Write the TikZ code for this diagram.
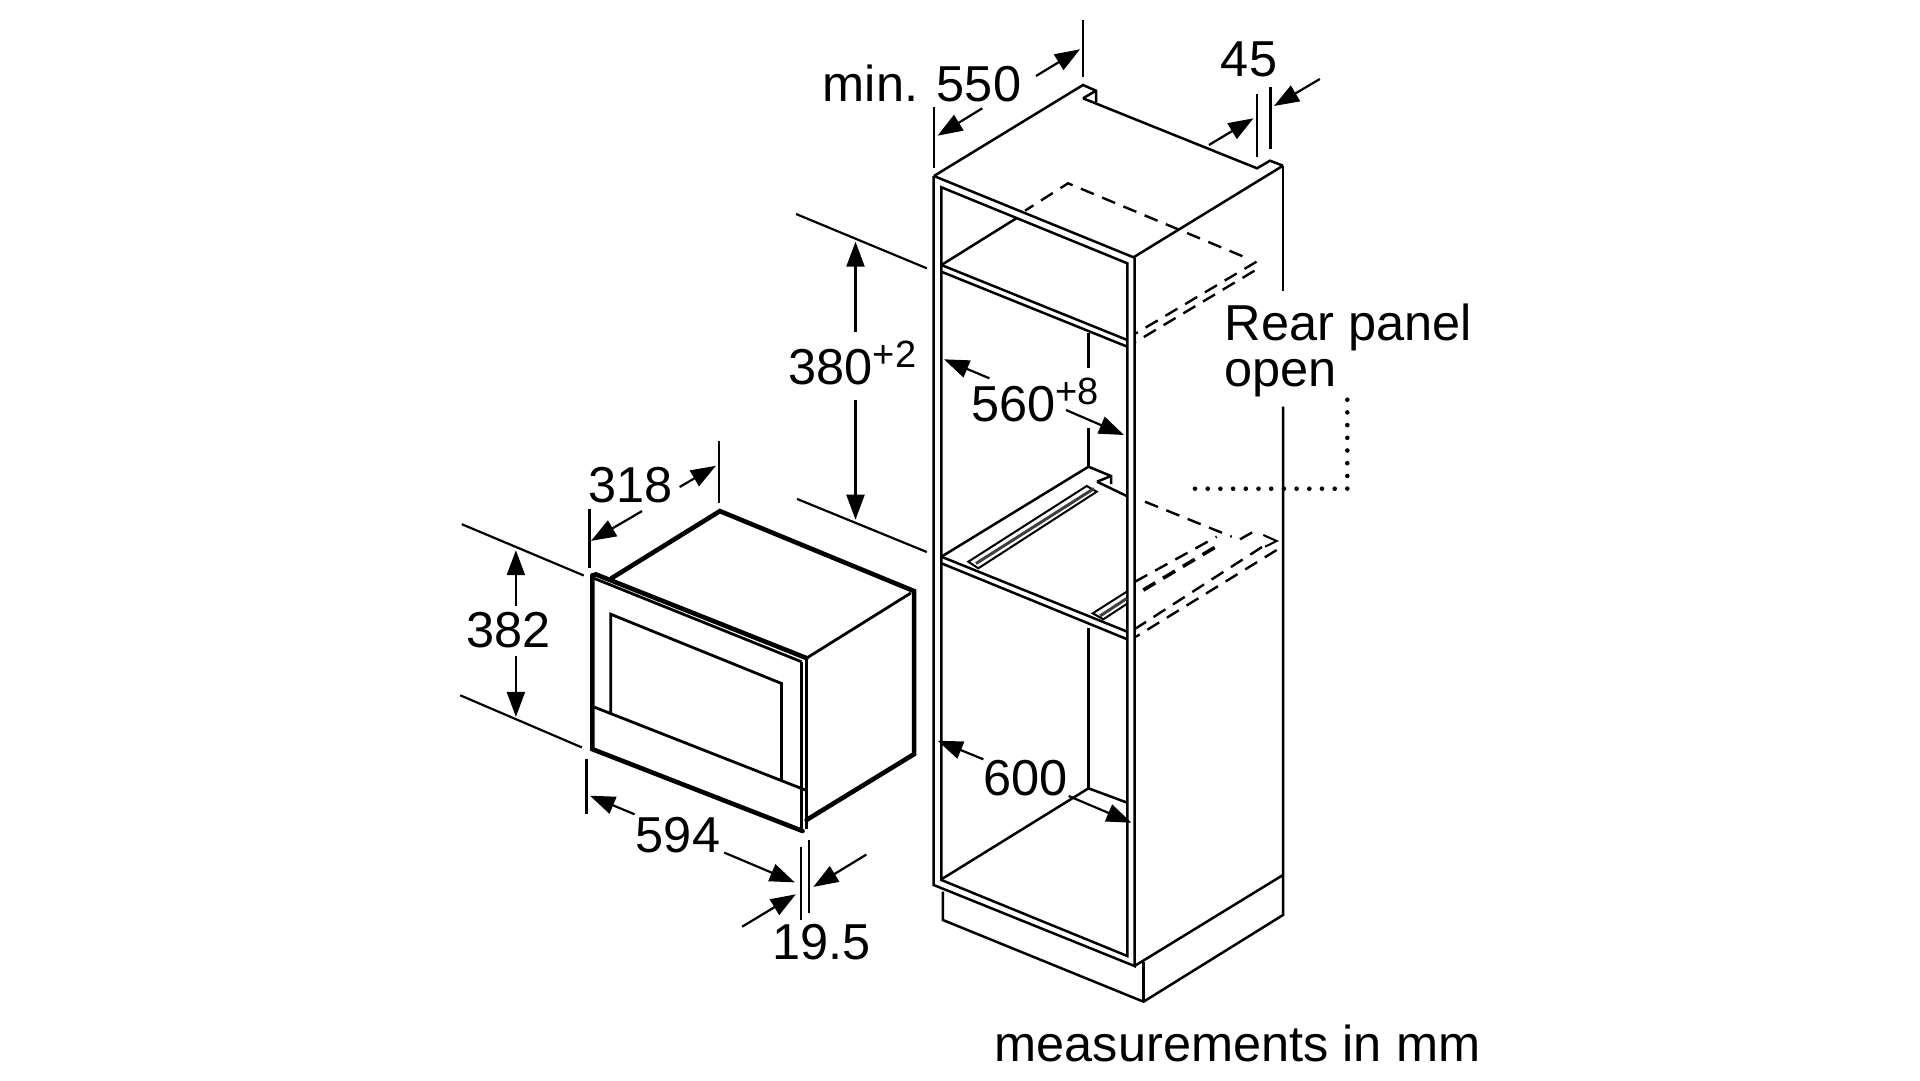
\documentclass[tikz,border=0pt]{standalone}
\usepackage{fontspec}
\setmainfont{Liberation Sans}
\usetikzlibrary{arrows.meta}
\tikzset{
  oven/.style={line width=4.6pt,line join=miter,line cap=round,black},
  ovenmid/.style={line width=2.8pt,line join=miter,black},
  cab/.style={line width=2.5pt,line join=miter,line cap=butt,black},
  hid/.style={line width=2.4pt,dash pattern=on 14pt off 9pt,black},
  dots/.style={line width=4.6pt,line cap=round,dash pattern=on 0pt off 12.7pt,black},
  dimarrow/.style={line width=2.2pt,black,-{Triangle[length=25pt,width=18pt]}},
  extline/.style={line width=2.2pt,black},
  lab/.style={font=\fontsize{50.5}{45.5}\selectfont,inner sep=0pt,text=black},
}
\newcommand{\supmark}[1]{\raisebox{0.32em}{\fontsize{38}{38}\selectfont #1}}
\begin{document}
\begin{tikzpicture}[x=1pt,y=-1pt]
\fill[white] (0,0) rectangle (1920,1080);
\useasboundingbox (0,0) rectangle (1920,1080);

% ---------- OVEN ----------
\begin{scope}[xshift=-3pt]
\draw[oven] (595.4,575.5) -- (595.4,749.2) -- (805.6,831);
\draw[oven] (595.4,575.5) -- (598.9,574.4) -- (809.6,658.1);
\draw[oven] (614.7,578.1) -- (722.9,511.1) -- (917.1,591.1) -- (917.1,754.1) -- (809.6,819.9);
\draw[ovenmid] (596.5,578.1) -- (804.6,661.8);
\draw[ovenmid] (809.6,658.1) -- (913.8,593);
\draw[ovenmid] (804.6,661.8) -- (804.6,831.1);
\draw[ovenmid] (809.6,658.1) -- (809.6,829);
\draw[ovenmid] (613.7,713.9) -- (613.7,614.2) -- (784.4,683.4) -- (784.4,780.8);
\draw[ovenmid] (597.5,707.2) -- (809.6,790.5);

% oven dimensions
\draw[extline] (592.5,509.3) -- (592.5,568);
\draw[extline] (721.6,440.5) -- (721.6,502.6);
\draw[dimarrow] (645,511.1) -- (594,540.9);
\draw[dimarrow] (682.6,487) -- (718.9,465.8);
\node[lab] (t318) at (633.5,485.1) {318};

\draw[extline] (589.5,758.5) -- (589.5,814.3);
\draw[dimarrow] (637.6,814.3) -- (593,795.7);
\draw[dimarrow] (727.3,852.6) -- (797.8,882.4);
\node[lab] (t594) at (681,835.5) {594};

\draw[extline] (803.6,847.1) -- (803.6,920.3);
\draw[extline] (812,840.4) -- (812,912.9);
\draw[dimarrow] (745.1,926.7) -- (798.8,894.3);
\draw[dimarrow] (869.4,854.5) -- (816.3,886.9);
\node[lab] (t195) at (824.5,942.5) {19.5};
\end{scope}

\draw[extline] (461.8,524.2) -- (583.8,575.5);
\draw[extline] (460.2,695.3) -- (581.8,747.4);
\draw[dimarrow] (515.9,606) -- (515.9,550.2);
\draw[dimarrow] (515.9,656.2) -- (515.9,716.9);
\node[lab] (t382) at (508.9,630.3) {382};

% ---------- CABINET ----------
% top
\draw[cab] (933.9,176) -- (1083,85) -- (1096,90.7) -- (1096,102.7);
\draw[cab] (1083,98.3) -- (1096,90.7);
\draw[cab] (1083,98.3) -- (1257,168.3) -- (1270,160.7) -- (1283,165.7);
\draw[cab] (933.9,176) -- (1133.5,257.3) -- (1283,165.7);
% frame verticals
\draw[cab] (933.7,176) -- (933.7,885) -- (1134.5,966) -- (1134.5,257.3);
\draw[cab] (941.4,187.3) -- (941.4,880) -- (1127.3,956) -- (1127.3,263.3) -- cycle;
% back right edge
\draw[cab] (1283,165.7) -- (1283,290.7);
\draw[cab] (1283,406.7) -- (1283,915) -- (1143.5,1001.7) -- (942.9,920) -- (942.9,891.7);
\draw[cab] (1143.5,961.7) -- (1143.5,1001.7);
\draw[cab] (1134.5,966) -- (1283,875);

% upper shelf
\draw[cab] (941.4,265) -- (1127.3,340);
\draw[cab] (941.4,271.7) -- (1127.3,346.7);
\draw[cab] (941.4,265) -- (1016.3,218.3);
\draw[hid,dash phase=4pt] (1025,210.7) -- (1068,183.3) -- (1247.5,258.3);
\draw[hid] (1256.5,261.7) -- (1136,333.3);
\draw[hid] (1254.5,270.7) -- (1136,341.7);

% rear upright
\draw[cab] (1088.5,333) -- (1088.5,368);
\draw[cab] (1088.5,427.7) -- (1088.5,466.7);
\draw[cab] (1088.5,628.3) -- (1088.5,788.3);

% middle shelf
\draw[cab] (941.4,556.7) -- (1088.5,466.7) -- (1111,476) -- (1111,484);
\draw[cab] (1097,481.7) -- (1111,476);
\draw[cab] (1097,481.7) -- (1126.7,496);
\draw[cab] (941.4,556.7) -- (1127.3,631.7);
\draw[cab] (941.4,563.3) -- (1127.3,639.3);
\draw[hid] (1145,501.7) -- (1231.7,536.7);
\draw[hid] (1240,539.3) -- (1253.3,531.7);
\draw[cab,line width=2pt] (1263.3,535) -- (1276.7,541) -- (1265,546.7);
\draw[hid] (1276.7,550) -- (1136,636.7);
\draw[hid] (1262,547) -- (1136,628.3);

% rails
\draw[cab,line width=2pt] (968.3,561.7) -- (1086.7,486) -- (1096.7,491.7) -- (978.3,568.3) -- cycle;
\draw[line width=3pt,black!75] (976,563.5) -- (1094,488.5);
\draw[cab,line width=2pt] (1126.7,591.7) -- (1092.7,613.3) -- (1103.3,619.3) -- (1126.7,604);
\draw[line width=3pt,black!75] (1100,616) -- (1126.7,598.5);
\draw[hid] (1135,581.7) -- (1216.7,536.7);
\draw[hid,line width=3.6pt] (1143.3,590) -- (1221.7,543.3);

% floor
\draw[cab] (941.4,879.3) -- (1088.5,788.3) -- (1127.3,802.7);

% dotted leader
\draw[dots] (1195,488.7) -- (1347.3,488.7) -- (1347.3,395);

% cabinet dimensions
\draw[extline] (933.9,107.3) -- (933.9,168.3);
\draw[extline] (1083,20) -- (1083,77.3);
\draw[dimarrow] (982.3,108.3) -- (937.5,135.7);
\draw[dimarrow] (1036,76) -- (1080,49.3);
\node[lab] (t550) at (922,83.3) {min. 550};

\draw[extline] (1257,94.3) -- (1257,156.7);
\draw[extline] (1270.5,86.7) -- (1270.5,149.3);
\draw[dimarrow] (1208.9,145) -- (1253.5,118.3);
\draw[dimarrow] (1319.9,79) -- (1274,106);
\node[lab] (t45) at (1249,59.3) {45};

\draw[extline] (796.1,214) -- (926.8,268.3);
\draw[extline] (797,498.9) -- (926.8,552);
\draw[dimarrow] (855.5,331.7) -- (855.5,241.7);
\draw[dimarrow] (855.5,400) -- (855.5,519.7);
\node[lab,anchor=base west] (t380) at (788.5,384) {380\supmark{+2}};

\draw[dimarrow] (989.4,378.3) -- (944,359.3);
\draw[dimarrow] (1066,410) -- (1124,435);
\node[lab,anchor=base west] (t560) at (971,421) {560\supmark{+8}};

\draw[dimarrow] (983.4,759.3) -- (937.7,740.7);
\draw[dimarrow] (1068.7,796) -- (1131.5,822.7);
\node[lab] (t600) at (1025.5,778) {600};

\node[lab,anchor=base west,align=left] (trear) at (1224.5,386) {Rear panel\\open};
\node[lab,anchor=base] (tmeas) at (1237.5,1061.5) {measurements in mm};
\end{tikzpicture}
\end{document}
